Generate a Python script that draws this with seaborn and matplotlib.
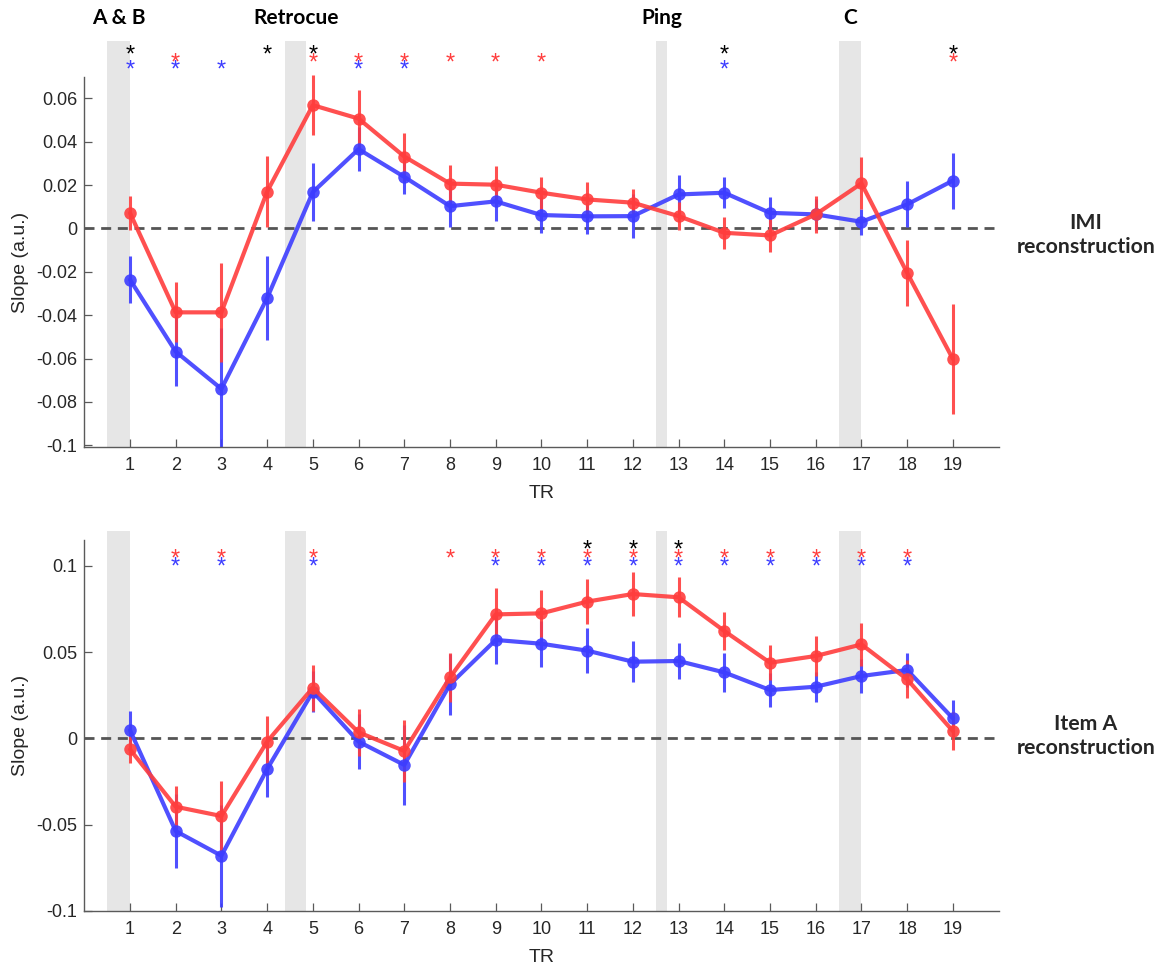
import numpy as np
import pandas as pd
import matplotlib
matplotlib.use("Agg")
import matplotlib.pyplot as plt
import seaborn as sns

sns.set_style("white")
plt.rcParams['font.family'] = ['Liberation Sans', 'DejaVu Sans']

# ---------------- data ----------------
tr = list(range(1, 20))

imi_blue = [-0.0236, -0.0568, -0.0740, -0.0321, 0.0168, 0.0366, 0.0238, 0.0103, 0.0125, 0.0062,
            0.0056, 0.0057, 0.0157, 0.0165, 0.0072, 0.0065, 0.0031, 0.0111, 0.0221]
imi_blue_err = [0.0107, 0.0160, 0.0280, 0.0193, 0.0135, 0.0100, 0.0080, 0.0095, 0.0090, 0.0085,
                0.0080, 0.0100, 0.0090, 0.0072, 0.0075, 0.0070, 0.0060, 0.0106, 0.0129]
imi_red = [0.0072, -0.0387, -0.0387, 0.0170, 0.0569, 0.0507, 0.0332, 0.0207, 0.0202, 0.0165,
           0.0134, 0.0119, 0.0057, -0.0020, -0.0032, 0.0065, 0.0208, -0.0205, -0.0602]
imi_red_err = [0.0077, 0.0138, 0.0228, 0.0163, 0.0139, 0.0130, 0.0110, 0.0087, 0.0086, 0.0074,
               0.0079, 0.0063, 0.0066, 0.0074, 0.0077, 0.0084, 0.0120, 0.0153, 0.0255]

itemA_blue = [0.0048, -0.0537, -0.0680, -0.0178, 0.0270, -0.0019, -0.0154, 0.0313, 0.0570, 0.0548,
              0.0508, 0.0444, 0.0448, 0.0382, 0.0280, 0.0299, 0.0361, 0.0396, 0.0116]
itemA_blue_err = [0.0112, 0.0216, 0.0295, 0.0160, 0.0120, 0.0160, 0.0232, 0.0175, 0.0140, 0.0133,
                  0.0130, 0.0120, 0.0106, 0.0114, 0.0098, 0.0088, 0.0100, 0.0097, 0.0106]
itemA_red = [-0.0064, -0.0396, -0.0450, -0.0019, 0.0293, 0.0035, -0.0073, 0.0353, 0.0718, 0.0724,
             0.0792, 0.0836, 0.0817, 0.0622, 0.0438, 0.0477, 0.0544, 0.0342, 0.0042]
itemA_red_err = [0.0080, 0.0121, 0.0205, 0.0148, 0.0133, 0.0136, 0.0177, 0.0140, 0.0152, 0.0135,
                 0.0131, 0.0130, 0.0115, 0.0108, 0.0100, 0.0114, 0.0127, 0.0110, 0.0110]

# significance markers (TR positions)
imi_sig_black = [1, 4, 5, 14, 19]
imi_sig_red = [2, 5, 6, 7, 8, 9, 10, 19]
imi_sig_blue = [1, 2, 3, 6, 7, 14]
itemA_sig_black = [11, 12, 13]
itemA_sig_red = [2, 3, 5, 8, 9, 10, 11, 12, 13, 14, 15, 16, 17, 18]
itemA_sig_blue = [2, 3, 5, 9, 10, 11, 12, 13, 14, 15, 16, 17, 18]

# event periods
event_labels = ["A & B", "Retrocue", "Ping", "C"]
event_start = [0.5, 4.4, 12.5, 16.5]
event_end = [1.0, 4.85, 12.75, 17.0]

imi_yticks = [-0.1, -0.08, -0.06, -0.04, -0.02, 0, 0.02, 0.04, 0.06]
imi_yticklabels = ["-0.1", "-0.08", "-0.06", "-0.04", "-0.02", "0", "0.02", "0.04", "0.06"]
itemA_yticks = [-0.1, -0.05, 0, 0.05, 0.1]
itemA_yticklabels = ["-0.1", "-0.05", "0", "0.05", "0.1"]

RED = "#ff3d3d"
BLUE = "#3d3dff"
BAND = "#e6e6e6"
TXT = "#262626"
SPINE = "#5a5a5a"

fig = plt.figure(figsize=(11.67, 9.65), dpi=100)
ax1 = fig.add_axes([0.0722, 0.5364, 0.7835, 0.4211])
ax2 = fig.add_axes([0.0722, 0.05596, 0.7835, 0.3936])


def draw_panel(ax, blue, blue_err, red, red_err, ylo, yspine_top, yband_top,
               yticks, yticklabels, sig_black, sig_red, sig_blue, star_y, ylab_y):
    ax.set_xlim(0, 20)
    ax.set_ylim(ylo, yband_top)
    for s, e in zip(event_start, event_end):
        ax.axvspan(s, e, color=BAND, lw=0, zorder=0)
    ax.axhline(0, color="#555555", lw=2.0, ls=(0, (3.6, 2.4)), zorder=1)

    for vals, errs, col, name in [(blue, blue_err, BLUE, "blue"), (red, red_err, RED, "red")]:
        df = pd.DataFrame({"TR": tr, "slope": vals, "cond": name})
        lo = np.array(vals) - np.array(errs)
        hi = np.array(vals) + np.array(errs)
        ax.vlines(tr, lo, hi, color=col, lw=2.2, alpha=0.9, zorder=2)
        sns.lineplot(data=df, x="TR", y="slope", color=col, lw=3.0, marker="o",
                     markersize=9, markeredgewidth=0, alpha=0.9, estimator=None,
                     sort=False, legend=False, ax=ax, zorder=3)

    for xs, col, yy in [(sig_black, "black", star_y[0]), (sig_red, RED, star_y[1]),
                        (sig_blue, BLUE, star_y[2])]:
        for x in xs:
            ax.text(x, yy, "*", color=col, fontsize=17, ha="center", va="baseline",
                    zorder=5, clip_on=False)

    ax.set_xticks(tr)
    ax.set_xticklabels([str(t) for t in tr])
    ax.set_yticks(yticks)
    ax.set_yticklabels(yticklabels)
    ax.tick_params(axis="both", direction="in", length=5.5, width=0.9, color=SPINE,
                   labelsize=13, labelcolor=TXT, pad=5)
    ax.tick_params(axis="x", bottom=True, top=False, pad=7)
    ax.tick_params(axis="y", left=True, right=False)
    for side in ["top", "right"]:
        ax.spines[side].set_visible(False)
    for side in ["left", "bottom"]:
        ax.spines[side].set_color(SPINE)
        ax.spines[side].set_linewidth(1.0)
    ax.spines["left"].set_bounds(ylo, yspine_top)
    ax.set_xlabel("TR", fontsize=14, color=TXT, labelpad=8)
    ax.set_ylabel("Slope (a.u.)", fontsize=14, color=TXT)
    ax.yaxis.set_label_coords(-0.0604, ylab_y)
    ax.set_facecolor("white")


draw_panel(ax1, imi_blue, imi_blue_err, imi_red, imi_red_err,
           -0.101, 0.07, 0.0865, imi_yticks, imi_yticklabels,
           imi_sig_black, imi_sig_red, imi_sig_blue, (0.0769, 0.0735, 0.0701), 0.456)
draw_panel(ax2, itemA_blue, itemA_blue_err, itemA_red, itemA_red_err,
           -0.1, 0.115, 0.12, itemA_yticks, itemA_yticklabels,
           itemA_sig_black, itemA_sig_red, itemA_sig_blue, (0.1052, 0.1003, 0.0955), 0.488)

# event labels above top panel
for lab, s, e in zip(event_labels, event_start, event_end):
    ax1.text((s + e) / 2, 0.0972, lab, fontsize=15, fontweight="bold",
             family=["Lato", "DejaVu Sans"], ha="center", va="center", color="black",
             clip_on=False)

# row labels
fig.text(1086 / 1167, 1 - 235 / 965, "IMI\nreconstruction", fontsize=15.3, fontweight="bold",
         family=["Lato", "DejaVu Sans"], ha="center", va="center", linespacing=1.3)
fig.text(1086 / 1167, 1 - 736 / 965, "Item A\nreconstruction", fontsize=15.3, fontweight="bold",
         family=["Lato", "DejaVu Sans"], ha="center", va="center", linespacing=1.3)

fig.savefig("out.png", dpi=100, facecolor="white")
